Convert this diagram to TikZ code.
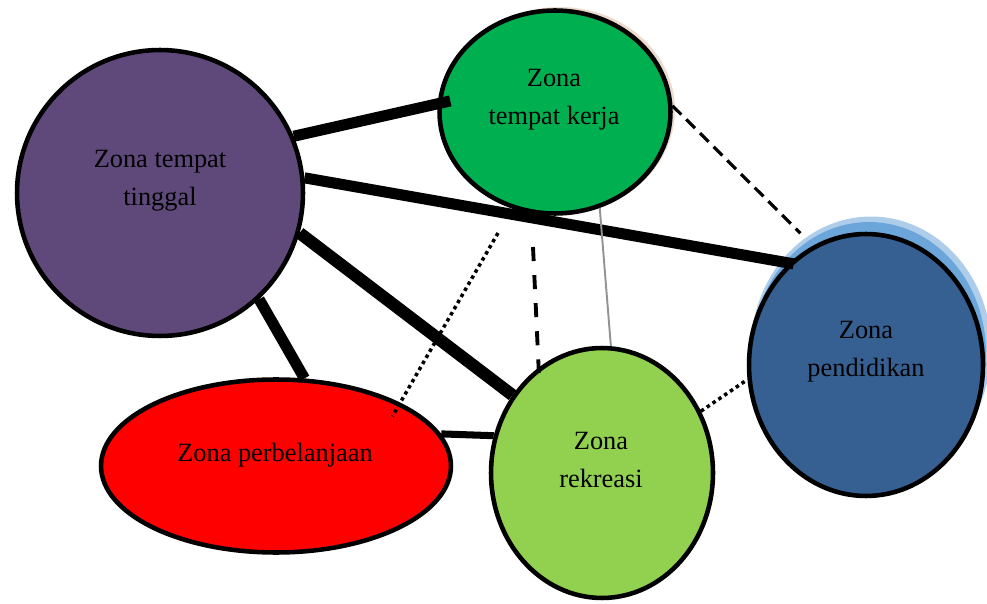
\documentclass[tikz,border=0pt]{standalone}
\usepackage{fontspec}
\setmainfont{Liberation Serif}
\usetikzlibrary{shapes}

\definecolor{tinggalc}{HTML}{5F497A}
\definecolor{kerjac}{HTML}{00B050}
\definecolor{pendidikanc}{HTML}{366092}
\definecolor{belanjac}{HTML}{FF0000}
\definecolor{rekreasic}{HTML}{92D050}
\definecolor{shadowblue}{HTML}{5B9BD5}
\definecolor{shadowbrown}{HTML}{B8703C}

\begin{document}
\begin{tikzpicture}[x=0.02cm, y=-0.02cm, every node/.style={font=\fontsize{15}{21.5}\selectfont},
	zone/.style={ellipse, draw, line width=2.6pt, inner sep=0pt},
	zonetext/.style={align=center, inner sep=0pt},
	strongrel/.style={line width=6.3pt},
	mediumrel/.style={line width=4pt},
	dashrel/.style={line width=1.8pt, dash pattern=on 7pt off 4pt},
	longdashrel/.style={line width=2.2pt, dash pattern=on 8pt off 8pt},
	dotrel/.style={line width=2pt, dash pattern=on 2pt off 2pt},
	greyrel/.style={line width=1.1pt, gray!85}]
		\useasboundingbox (0, 0) rectangle (987, 604);

		% shadows
		\fill[shadowbrown, opacity=0.25]	(560, 110) ellipse (2.30cm and 2.06cm);
		\fill[shadowblue, opacity=0.5]		(871, 349) ellipse (2.40cm and 2.65cm);
		\fill[shadowblue, opacity=0.8]		(869, 353) ellipse (2.34cm and 2.62cm);

		\node[zone, fill=tinggalc, minimum width=5.72cm, minimum height=5.72cm]		(tinggal) at (160, 193) {};
		\node[zone, fill=kerjac, minimum width=4.62cm, minimum height=4.06cm]			(kerja) at (555, 112) {};
		\node[zone, fill=pendidikanc, minimum width=4.68cm, minimum height=5.24cm]	(pendidikan) at (866, 365) {};
		\node[zone, fill=belanjac, minimum width=7.0cm, minimum height=3.46cm]		(belanja) at (276, 466) {};
		\node[zone, fill=rekreasic, minimum width=4.44cm, minimum height=5.0cm]		(rekreasi) at (602, 473) {};

		\node[zonetext]	(tinggal-txt) at (160, 181) {Zona tempat\\tinggal};
		\node[zonetext]	(kerja-txt) at (554, 100) {Zona\\tempat kerja};
		\node[zonetext]	(pendidikan-txt) at (866, 352) {Zona\\pendidikan};
		\node[zonetext]	(belanja-txt) at (275, 455) {Zona perbelanjaan};
		\node[zonetext]	(rekreasi-txt) at (601, 460) {Zona\\rekreasi};

		\coordinate (dashfree) at (533, 247);
		\coordinate (dotfree) at (498, 233);

		% relations
		\draw[strongrel, shorten >=-7.4pt]	(tinggal.23) -- (kerja.176);
		\draw[strongrel, shorten >=-2.6pt]	(tinggal.6) -- (pendidikan.127);
		\draw[strongrel, line width=7pt]		(tinggal.-16) -- (rekreasi.139);
		\draw[strongrel]						(tinggal.-47) -- (belanja.72);
		\draw[mediumrel]						(belanja.11) -- (rekreasi.161);
		\draw[dashrel, shorten >=10pt]		(kerja.3) -- (pendidikan.114);
		\draw[greyrel]						(kerja.-65) -- (rekreasi.86);
		\draw[longdashrel, shorten >=-3pt]	(dashfree) -- (rekreasi.121);
		\draw[dotrel, shorten >=-9pt]			(dotfree) -- (belanja.27);
		\draw[dotrel]							(rekreasi.32) -- (pendidikan.187);
	\end{tikzpicture}
\end{document}
